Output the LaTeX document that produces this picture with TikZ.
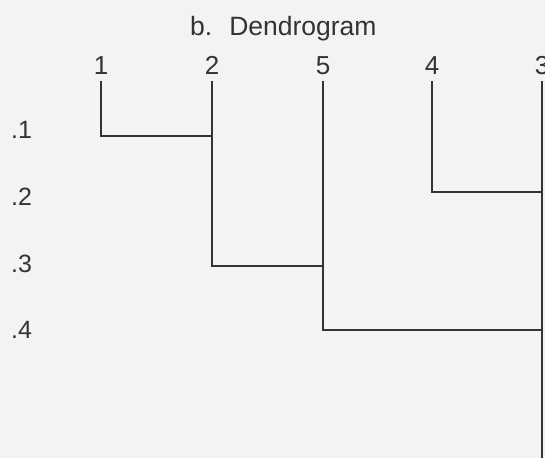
\documentclass[tikz,border=0pt]{standalone}
\usepackage{fontspec}
\setmainfont{Liberation Sans}
\definecolor{bgc}{HTML}{F3F3F3}
\definecolor{ink}{HTML}{333333}
\begin{document}
\begin{tikzpicture}[x=1pt,y=-1pt,
  lbl/.style={inner sep=0pt,text=ink,font=\fontsize{26}{31}\selectfont,anchor=base},
  lvl/.style={inner sep=0pt,text=ink,font=\fontsize{25}{30}\selectfont,anchor=base west},
  ttl/.style={inner sep=0pt,text=ink,font=\fontsize{26.5}{32}\selectfont,anchor=base west},
  link/.style={draw=ink,line width=1.4pt}]
\fill[bgc] (0,0) rectangle (545,458);
\useasboundingbox (0,0) rectangle (545,458);
% title
\node[ttl] (title) at (190,35) {b.\hspace{17pt}Dendrogram};
% leaf labels
\node[lbl] (n1) at (101,74) {1};
\node[lbl] (n2) at (212,74) {2};
\node[lbl] (n5) at (323,74) {5};
\node[lbl] (n4) at (432,74) {4};
\node[lbl] (n3) at (542,74) {3};
% level labels
\node[lvl] (v1) at (11,138) {.1};
\node[lvl] (v2) at (11,205) {.2};
\node[lvl] (v3) at (11,272) {.3};
\node[lvl] (v4) at (11,338) {.4};
% leaf tops and junctions
\coordinate (t1) at (101,81);
\coordinate (t2) at (212,81);
\coordinate (t5) at (323,81);
\coordinate (t4) at (432,81);
\coordinate (t3) at (542,81);
\coordinate (j12) at (212,136);
\coordinate (j43) at (542,192);
\coordinate (j125) at (323,266);
\coordinate (jroot) at (542,330);
\coordinate (bot) at (542,458);
% links
\draw[link] (t1) |- (j12);
\draw[link] (t2) |- (j125);
\draw[link] (t4) |- (j43);
\draw[link] (t5) |- (jroot);
\draw[link] (t3) -- (bot);
\end{tikzpicture}
\end{document}
